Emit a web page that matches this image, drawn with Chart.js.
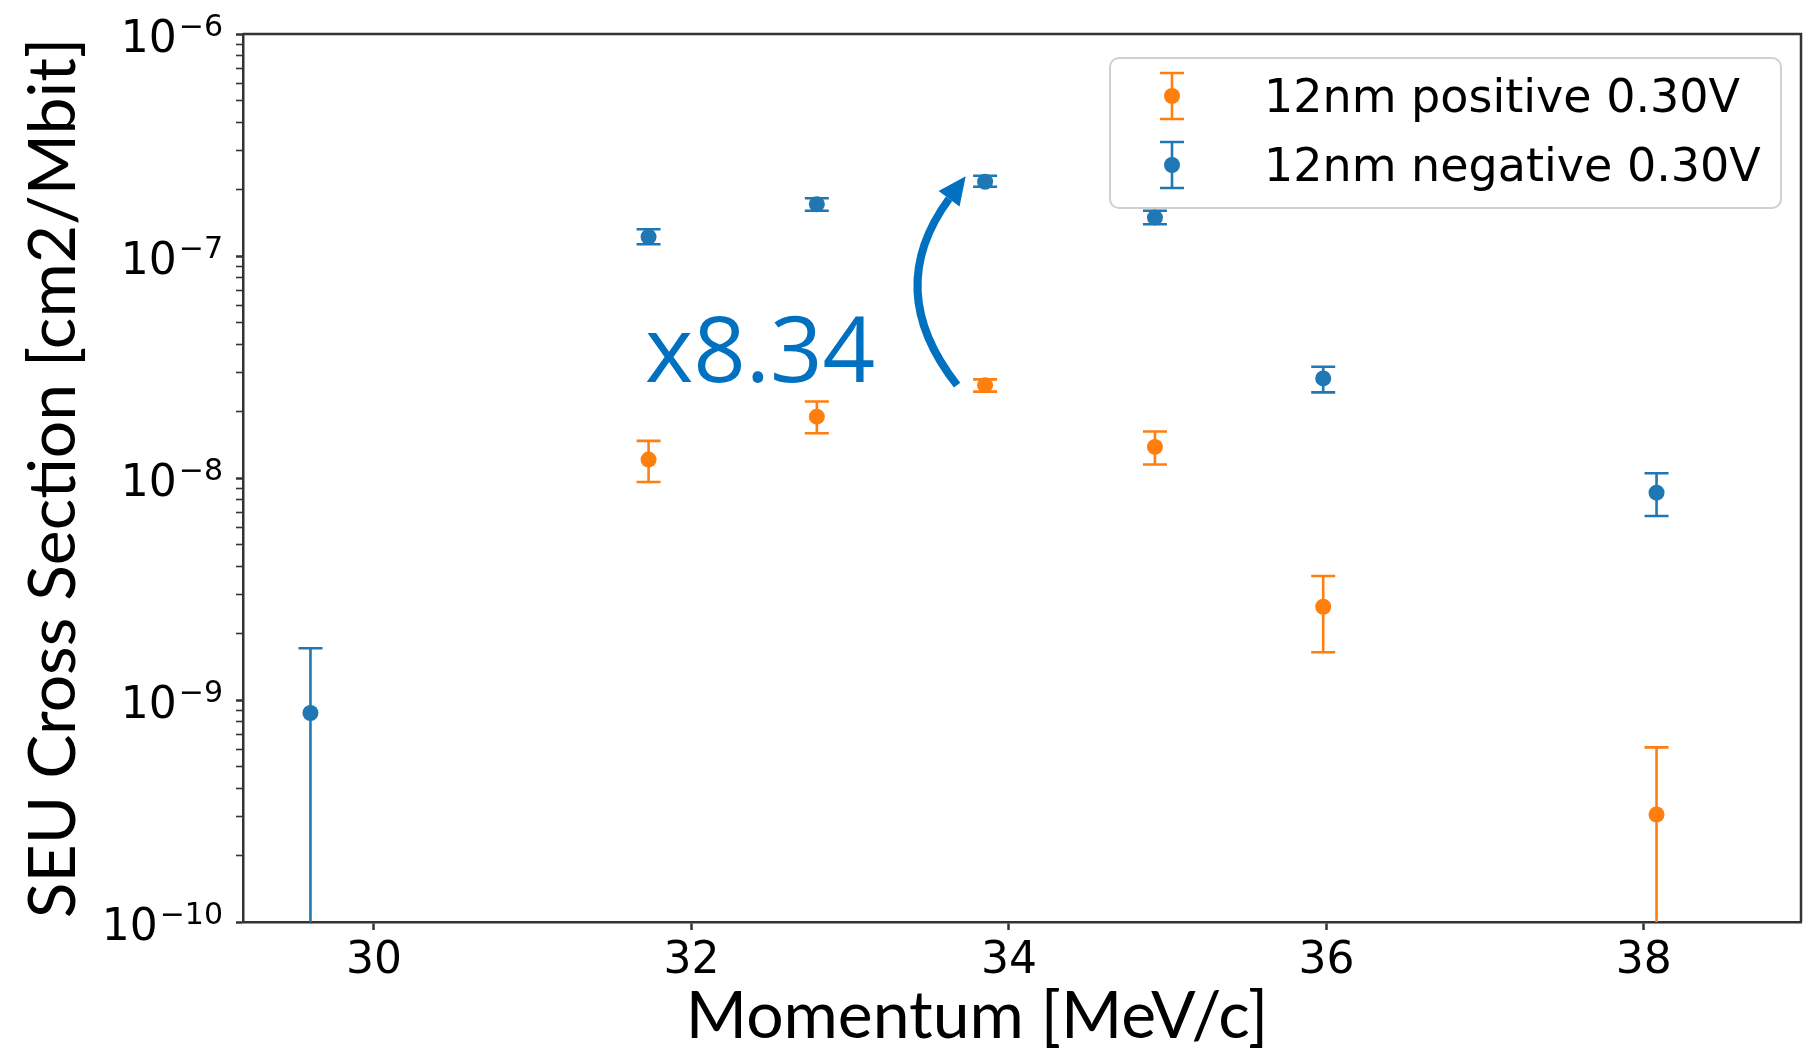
<!DOCTYPE html>
<html>
<head>
<meta charset="utf-8">
<title>SEU Cross Section vs Momentum</title>
<script src="https://cdn.jsdelivr.net/npm/chart.js@4.4.1/dist/chart.umd.min.js"></script>
<style>
    html, body { margin: 0; padding: 0; background: #ffffff; }
    #wrap { width: 1809px; height: 1064px; }
</style>
</head>
<body>
<div id="wrap"><canvas id="chart"></canvas></div>
<script>
// 12nm positive 0.30V (orange)
const posX = [31.73, 32.79, 33.85, 34.92, 35.98, 38.08];
const posY = [1.21e-8, 1.89e-8, 2.62e-8, 1.38e-8, 2.63e-9, 3.05e-10];
const posLow = [9.6e-9, 1.59e-8, 2.45e-8, 1.15e-8, 1.64e-9, 1e-12];
const posHigh = [1.47e-8, 2.21e-8, 2.78e-8, 1.62e-8, 3.62e-9, 6.12e-10];

// 12nm negative 0.30V (blue)
const negX = [29.6, 31.73, 32.79, 33.85, 34.92, 35.98, 38.08];
const negY = [8.74e-10, 1.22e-7, 1.71e-7, 2.16e-7, 1.49e-7, 2.81e-8, 8.59e-9];
const negLow = [1e-12, 1.13e-7, 1.60e-7, 2.05e-7, 1.39e-7, 2.43e-8, 6.74e-9];
const negHigh = [1.71e-9, 1.32e-7, 1.82e-7, 2.30e-7, 1.60e-7, 3.17e-8, 1.05e-8];

const seriesLabels = ["12nm positive 0.30V", "12nm negative 0.30V"];
const seriesColors = ["#ff7f0e", "#1f77b4"];

const xTicks = [30, 32, 34, 36, 38];
const yDecades = [-10, -9, -8, -7, -6];
const xTitle = "Momentum [MeV/c]";
const yTitle = "SEU Cross Section [cm2/Mbit]";
const ratioText = "x8.34";
const ratioAt = 33.85; // arrow goes from the orange to the blue point here

function toPoints(xs, ys, lows, highs) {
    return xs.map((x, i) => ({ x: x, y: ys[i], lo: lows[i], hi: highs[i] }));
}

function isDecade(v) {
    const e = Math.log10(v);
    return Math.abs(e - Math.round(e)) < 1e-6;
}

// error bars, drawn under the dots
const errorBars = {
    id: "errorBars",
    beforeDatasetsDraw(chart) {
        const ctx = chart.ctx;
        const xs = chart.scales.x, ys = chart.scales.y;
        const a = chart.chartArea;
        ctx.save();
        ctx.beginPath();
        ctx.rect(a.left, a.top, a.right - a.left, a.bottom - a.top);
        ctx.clip();
        chart.data.datasets.forEach(ds => {
            ctx.strokeStyle = ds.backgroundColor;
            ctx.lineWidth = 2.6;
            ds.data.forEach(p => {
                const x = xs.getPixelForValue(p.x);
                const yLo = ys.getPixelForValue(p.lo);
                const yHi = ys.getPixelForValue(p.hi);
                ctx.beginPath();
                ctx.moveTo(x, yLo);
                ctx.lineTo(x, yHi);
                ctx.moveTo(x - 12, yHi);
                ctx.lineTo(x + 12, yHi);
                ctx.moveTo(x - 12, yLo);
                ctx.lineTo(x + 12, yLo);
                ctx.stroke();
            });
        });
        ctx.restore();
    }
};

// matplotlib style legend box with errorbar markers
const errLegend = {
    id: "errLegend",
    afterDatasetsDraw(chart) {
        const ctx = chart.ctx;
        ctx.save();
        ctx.beginPath();
        ctx.roundRect(1110, 58, 671, 150, 9);
        ctx.fillStyle = "rgba(255,255,255,0.85)";
        ctx.fill();
        ctx.strokeStyle = "#d0d0d0";
        ctx.lineWidth = 2;
        ctx.stroke();

        const rows = [96, 165];
        seriesLabels.forEach((label, i) => {
            const cy = rows[i];
            const cx = 1172;
            ctx.strokeStyle = seriesColors[i];
            ctx.lineWidth = 2.6;
            ctx.beginPath();
            ctx.moveTo(cx, cy - 23);
            ctx.lineTo(cx, cy + 23);
            ctx.moveTo(cx - 12, cy - 23);
            ctx.lineTo(cx + 12, cy - 23);
            ctx.moveTo(cx - 12, cy + 23);
            ctx.lineTo(cx + 12, cy + 23);
            ctx.stroke();
            ctx.fillStyle = seriesColors[i];
            ctx.beginPath();
            ctx.arc(cx, cy, 8, 0, Math.PI * 2);
            ctx.fill();

            ctx.fillStyle = "#000";
            ctx.font = "46px 'DejaVu Sans'";
            ctx.textAlign = "left";
            ctx.textBaseline = "alphabetic";
            ctx.fillText(label, 1264, cy + 16);
        });
        ctx.restore();
    }
};

const extras = {
    id: "extras",
    afterDraw(chart) {
        const ctx = chart.ctx;
        const xs = chart.scales.x, ys = chart.scales.y;
        const a = chart.chartArea;
        ctx.save();

        // top and right spines
        ctx.strokeStyle = "#333";
        ctx.lineWidth = 2.5;
        ctx.beginPath();
        ctx.moveTo(a.left, a.top);
        ctx.lineTo(a.right, a.top);
        ctx.lineTo(a.right, a.bottom);
        ctx.stroke();

        // y tick labels 10^n
        ctx.fillStyle = "#000";
        ctx.textBaseline = "alphabetic";
        yDecades.forEach(e => {
            const y = ys.getPixelForValue(Math.pow(10, e));
            const sup = "\u2212" + Math.abs(e);
            ctx.font = "30px 'DejaVu Sans'";
            ctx.textAlign = "right";
            const right = a.left - 20;
            ctx.fillText(sup, right, y + 2);
            const supW = ctx.measureText(sup).width;
            ctx.font = "44px 'DejaVu Sans'";
            ctx.fillText("10", right - supW - 2, y + 18);
        });

        // x axis title
        ctx.font = "66px Lato";
        ctx.textAlign = "center";
        ctx.fillText(xTitle, 977, 1038);

        // ratio annotation with curved arrow
        const blue = "#0070c0";
        ctx.fillStyle = blue;
        ctx.font = "92px 'Open Sans'";
        ctx.textAlign = "left";
        ctx.fillText(ratioText, 645, 382);

        const px = xs.getPixelForValue(ratioAt);
        const oy = ys.getPixelForValue(posY[posX.indexOf(ratioAt)]);
        const by = ys.getPixelForValue(negY[negX.indexOf(ratioAt)]);
        const sx = px - 28, sy = oy;
        const ex = px - 36, ey = by + 17;
        const cx = px - 103, cy = (sy + ey) / 2 - 2;
        ctx.strokeStyle = blue;
        ctx.lineWidth = 8;
        ctx.beginPath();
        ctx.moveTo(sx, sy);
        ctx.quadraticCurveTo(cx, cy, ex, ey);
        ctx.stroke();
        let dx = ex - cx, dy = ey - cy;
        const len = Math.hypot(dx, dy);
        dx /= len; dy /= len;
        ctx.beginPath();
        ctx.moveTo(ex + dx * 28, ey + dy * 28);
        ctx.lineTo(ex - dy * 13, ey + dx * 13);
        ctx.lineTo(ex + dy * 13, ey - dx * 13);
        ctx.closePath();
        ctx.fill();

        ctx.restore();
    }
};

const ctx = document.getElementById("chart").getContext("2d");
new Chart(ctx, {
    type: "scatter",
    data: {
        datasets: [
            {
                label: seriesLabels[0],
                data: toPoints(posX, posY, posLow, posHigh),
                backgroundColor: seriesColors[0],
                borderColor: seriesColors[0],
                pointRadius: 8,
                pointBorderWidth: 0
            },
            {
                label: seriesLabels[1],
                data: toPoints(negX, negY, negLow, negHigh),
                backgroundColor: seriesColors[1],
                borderColor: seriesColors[1],
                pointRadius: 8,
                pointBorderWidth: 0
            }
        ]
    },
    options: {
        responsive: true,
        maintainAspectRatio: false,
        animation: false,
        devicePixelRatio: 1,
        layout: { padding: { top: 34, right: 5, left: 0, bottom: 0 } },
        plugins: {
            legend: { display: false },
            tooltip: { enabled: false }
        },
        scales: {
            x: {
                type: "linear",
                min: 29.175,
                max: 38.99,
                afterBuildTicks: scale => { scale.ticks = xTicks.map(v => ({ value: v })); },
                afterFit: scale => { scale.height = 142; },
                grid: { drawOnChartArea: false, drawTicks: true, tickLength: 8, tickWidth: 2.5, tickColor: "#333" },
                border: { display: true, color: "#333", width: 2.5 },
                ticks: {
                    autoSkip: false,
                    maxRotation: 0,
                    padding: 5,
                    color: "#000",
                    font: { family: "DejaVu Sans", size: 44 }
                },
                title: { display: false }
            },
            y: {
                type: "logarithmic",
                min: 1e-10,
                max: 1e-6,
                afterBuildTicks: scale => {
                    const t = [];
                    yDecades.forEach(e => {
                        for (let m = 1; m <= 9; m++) {
                            if (e === yDecades[yDecades.length - 1] && m > 1) break;
                            t.push({ value: m * Math.pow(10, e) });
                        }
                    });
                    scale.ticks = t;
                },
                afterFit: scale => { scale.width = 243; },
                grid: {
                    drawOnChartArea: false,
                    drawTicks: true,
                    tickLength: 7,
                    tickColor: "#333",
                    tickWidth: c => (c.tick && isDecade(c.tick.value)) ? 2.5 : 1.6
                },
                border: { display: true, color: "#333", width: 2.5 },
                ticks: { display: false },
                title: {
                    display: true,
                    text: yTitle,
                    color: "#000",
                    font: { family: "Lato", size: 66 },
                    padding: { top: 14, bottom: 0 }
                }
            }
        }
    },
    plugins: [errorBars, errLegend, extras]
});
</script>
</body>
</html>
